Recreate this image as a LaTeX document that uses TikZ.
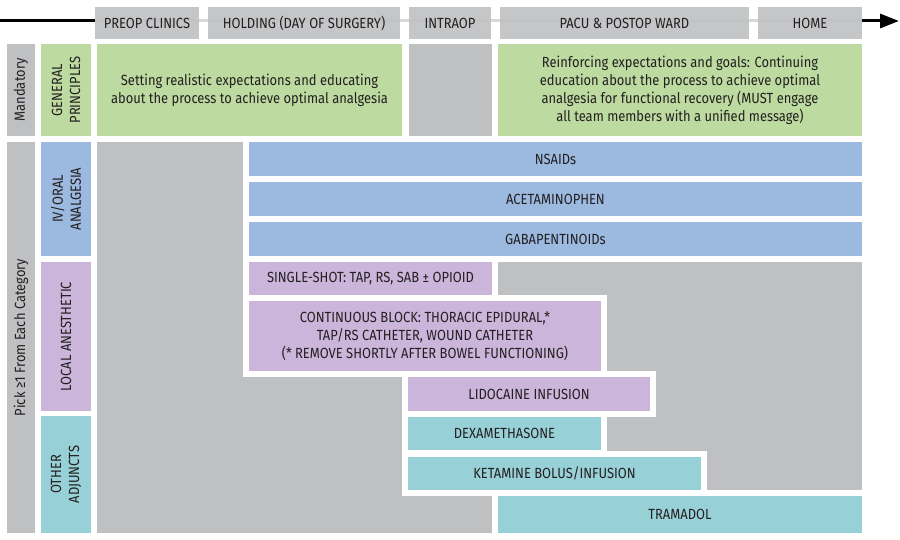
\documentclass[tikz,border=0pt]{standalone}
\usepackage{fontspec}
\setmainfont[FakeStretch=0.88]{Fira Sans}
\usetikzlibrary{arrows.meta}
\definecolor{cgrey}{HTML}{BFC0C2}
\definecolor{cgreen}{HTML}{BDDBA0}
\definecolor{cblue}{HTML}{9CB9E0}
\definecolor{cpurple}{HTML}{CBB5DA}
\definecolor{cteal}{HTML}{97D0D7}
\definecolor{ctext}{HTML}{231F20}
\definecolor{cline}{HTML}{D8D8D8}
\newcommand\bx[7]{%
  \pgfmathsetmacro\bxw{#4-#2}%
  \pgfmathsetmacro\bxh{#5-#3}%
  \node[#6, minimum width=\bxw pt, minimum height=\bxh pt, anchor=north west] (#1) at (#2,#3) {#7};}
\tikzset{
  base/.style={inner sep=0pt, outer sep=0pt, text=ctext, font=\fontsize{14.7}{18}\selectfont, align=center},
  hdr/.style={base, fill=cgrey},
  grn/.style={base, fill=cgreen},
  wb/.style={preaction={draw=white, line width=12pt, line join=miter}},
  blu/.style={base, fill=cblue},
  pur/.style={base, fill=cpurple},
  tea/.style={base, fill=cteal},
  vlab/.style={base, rotate=90},
}
\begin{document}
\begin{tikzpicture}[x=1pt,y=-1pt]
\useasboundingbox (0,0) rectangle (900,540);
% timeline arrow
\coordinate (a0) at (0,21);
\coordinate (a1) at (95,21);
\coordinate (a2) at (862,21);
\coordinate (a3) at (899,21);
\draw[black, line width=3pt] (a0) -- (a1);
\draw[cline, line width=3pt] (a1) -- (a2);
\draw[black, line width=3pt, -{Triangle[length=19pt,width=14pt]}] (a2) -- (a3);
% header
\bx{hpre}{95}{7}{199}{39}{hdr, fill opacity=0.9, text opacity=1}{PREOP CLINICS}
\bx{hhold}{208}{7}{400}{39}{hdr, fill opacity=0.9, text opacity=1}{HOLDING (DAY OF SURGERY)}
\bx{hint}{409}{7}{491}{39}{hdr, fill opacity=0.9, text opacity=1}{INTRAOP}
\bx{hpacu}{500}{7}{749}{39}{hdr, fill opacity=0.9, text opacity=1}{PACU \& POSTOP WARD}
\bx{hhome}{758}{7}{862}{39}{hdr, fill opacity=0.9, text opacity=1}{HOME}
% row 1
\bx{lmand}{7}{44}{35}{136}{hdr}{}
\node[vlab] at (lmand.center) {Mandatory};
\bx{lgen}{41}{44}{91}{136}{grn}{}
\node[vlab] at (lgen.center) {GENERAL\\PRINCIPLES};
\bx{g1}{97}{44}{402}{136}{grn}{Setting realistic expectations and educating\\about the process to achieve optimal analgesia}
\bx{gint}{409}{44}{492}{136}{hdr}{}
\bx{g2}{498}{44}{862}{136}{grn}{Reinforcing expectations and goals: Continuing\\education about the process to achieve optimal\\analgesia for functional recovery (MUST engage\\all team members with a unified message)}
% left labels
\bx{lpick}{7}{142}{35}{533}{hdr}{}
\node[vlab] at (lpick.center) {Pick ≥1 From Each Category};
\bx{liv}{41}{142}{91}{256}{blu}{}
\node[vlab] at (liv.center) {IV/ORAL\\ANALGESIA};
\bx{lloc}{41}{262}{91}{411}{pur}{}
\node[vlab] at (lloc.center) {LOCAL ANESTHETIC};
\bx{loth}{41}{416}{91}{533}{tea}{}
\node[vlab] at (loth.center) {OTHER\\ADJUNCTS};
% background
\bx{bg}{97}{142}{862}{533}{hdr}{}
% therapy boxes
\bx{nsaid}{249}{142}{862}{176}{blu, wb}{NSAIDs}
\bx{acet}{249}{182}{862}{216}{blu, wb}{ACETAMINOPHEN}
\bx{gaba}{249}{222}{862}{256}{blu, wb}{GABAPENTINOIDs}
\bx{single}{249}{262}{492}{296}{pur, wb}{SINGLE-SHOT: TAP, RS, SAB ± OPIOID}
\bx{cont}{249}{301}{601}{371}{pur, wb}{CONTINUOUS BLOCK: THORACIC EPIDURAL,*\\TAP/RS CATHETER, WOUND CATHETER\\(* REMOVE SHORTLY AFTER BOWEL FUNCTIONING)}
\bx{lido}{408}{377}{650}{411}{pur, wb}{LIDOCAINE INFUSION}
\bx{dexa}{408}{417}{601}{450}{tea, wb}{DEXAMETHASONE}
\bx{keta}{408}{457}{701}{490}{tea, wb}{KETAMINE BOLUS/INFUSION}
\bx{tram}{498}{496}{862}{533}{tea, wb}{TRAMADOL}
\end{tikzpicture}
\end{document}
